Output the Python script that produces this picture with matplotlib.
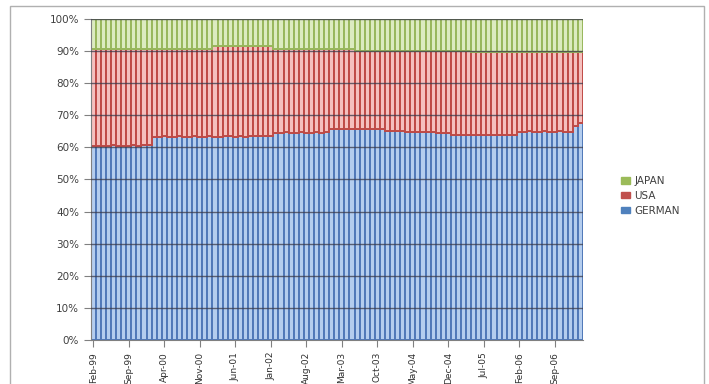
import numpy as np
import matplotlib.pyplot as plt
from matplotlib.patches import Rectangle

# Monthly shares (%), Feb-99 .. Feb-07
months = ['Jan', 'Feb', 'Mar', 'Apr', 'May', 'Jun', 'Jul', 'Aug', 'Sep', 'Oct', 'Nov', 'Dec']
labels = []
for i in range(97):
    m = 1 + i
    labels.append('%s-%02d' % (months[m % 12], (99 + m // 12) % 100))

german = [
    60.4, 60.5, 60.4, 60.5, 60.6, 60.5, 60.4, 60.5, 60.6, 60.5, 60.6, 60.6,   # Feb-99 .. Jan-00
    63.3, 63.3, 63.4, 63.3, 63.3, 63.4, 63.3, 63.3, 63.4, 63.3, 63.3, 63.4,   # Feb-00 .. Jan-01
    63.3, 63.3, 63.4, 63.4, 63.3, 63.4, 63.3, 63.4, 63.4, 63.4, 63.4, 63.5,   # Feb-01 .. Jan-02
    64.6, 64.6, 64.7, 64.6, 64.6, 64.7, 64.6, 64.6, 64.7, 64.6, 64.7, 65.6,   # Feb-02 .. Jan-03
    65.6, 65.7, 65.6, 65.6, 65.7, 65.6, 65.6, 65.6, 65.7, 65.6, 65.2, 65.1,   # Feb-03 .. Jan-04
    65.1, 65.0, 64.9, 64.8, 64.8, 64.7, 64.7, 64.7, 64.6, 64.6, 64.6, 63.9,   # Feb-04 .. Jan-05
    63.9, 63.9, 63.8, 63.8, 63.8, 63.9, 63.9, 63.8, 63.9, 63.9, 63.9, 63.9,   # Feb-05 .. Jan-06
    64.9, 64.9, 65.0, 64.9, 64.9, 65.0, 64.9, 64.9, 65.0, 64.9, 64.9, 66.8,   # Feb-06 .. Jan-07
    67.6,                                                                      # Feb-07
]
usa = [
    30.3, 30.2, 30.3, 30.2, 30.1, 30.2, 30.3, 30.2, 30.1, 30.2, 30.1, 30.1,
    27.4, 27.4, 27.3, 27.4, 27.4, 27.3, 27.4, 27.4, 27.3, 27.4, 27.4, 27.3,
    28.2, 28.3, 28.2, 28.2, 28.3, 28.2, 28.3, 28.2, 28.2, 28.2, 28.2, 28.1,
    26.2, 26.2, 26.1, 26.2, 26.2, 26.1, 26.2, 26.2, 26.1, 26.2, 26.1, 25.2,
    25.2, 25.1, 25.2, 25.2, 24.4, 24.5, 24.5, 24.4, 24.3, 24.4, 24.8, 24.9,
    24.9, 25.0, 25.1, 25.2, 25.2, 25.3, 25.3, 25.2, 25.3, 25.3, 25.3, 26.0,
    26.0, 26.0, 26.1, 26.0, 26.0, 25.9, 25.9, 26.0, 25.9, 25.9, 25.9, 25.9,
    24.9, 24.8, 24.7, 24.8, 24.8, 24.7, 24.8, 24.8, 24.7, 24.8, 24.8, 22.9,
    22.1,
]
japan = [100 - g - u for g, u in zip(german, usa)]

x = np.arange(len(german))
fig = plt.figure(figsize=(7.09, 3.84), dpi=100)
ax = fig.add_axes([0.128, 0.1146, 0.694, 0.836])

series = [
    ('GERMAN', german, '#b4cdee', '#5078b8', '#4f81bd'),
    ('USA', usa, '#f5c0be', '#bf4a46', '#c0504d'),
    ('JAPAN', japan, '#dcebc0', '#98b75c', '#9bbb59'),
]
bottom = np.zeros(len(x))
handles = []
for name, vals, face, edge, legc in series:
    ax.bar(x, vals, width=1.0, bottom=bottom, color=face, edgecolor=edge,
           linewidth=1.4, zorder=2)
    bottom += np.array(vals)
    handles.append(Rectangle((0, 0), 1, 1, color=legc, label=name))

ax.set_xlim(-0.5, len(x) - 0.5)
ax.set_ylim(0, 100)
ax.set_yticks(np.arange(0, 101, 10))
ax.set_yticklabels(['%d%%' % v for v in range(0, 101, 10)], fontsize=7.5, color='#404040')
for v in range(10, 101, 10):
    ax.axhline(v, color='#3a3a4a', linewidth=1.0, alpha=0.75, zorder=3)

ax.set_xticks(x[::7])
ax.set_xticklabels(labels[::7], rotation=90, fontsize=6.5, color='#303030')
ax.tick_params(axis='both', direction='out', length=5, color='#808080', width=0.8)
for s in ['top', 'right']:
    ax.spines[s].set_visible(False)
for s in ['left', 'bottom']:
    ax.spines[s].set_color('#808080')

fig.legend(handles=handles[::-1], loc='center left', bbox_to_anchor=(0.862, 0.49),
           frameon=False, fontsize=7.5, handlelength=0.9, handleheight=0.6,
           handletextpad=0.4, labelspacing=0.45, labelcolor='#404040')

fig.patches.append(Rectangle((10 / 709, -0.05), 694 / 709, 1 - 6 / 384 + 0.05,
                             transform=fig.transFigure, fill=False,
                             edgecolor='#b0b0b0', linewidth=1.0))

fig.savefig('out.png', dpi=100)
